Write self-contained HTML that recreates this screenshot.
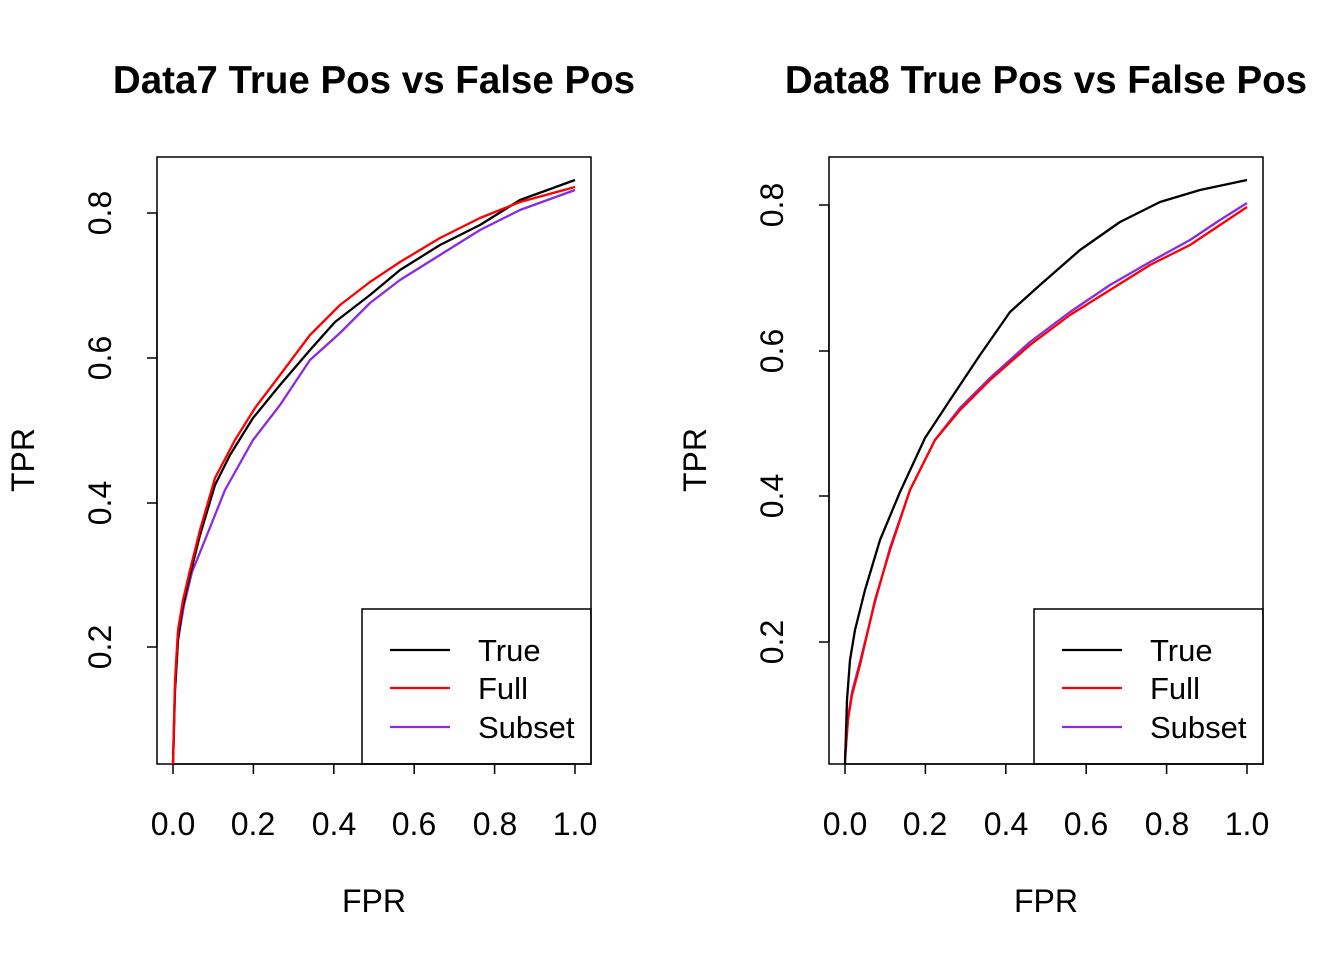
<!DOCTYPE html>
<html><head><meta charset="utf-8"><style>body{margin:0;background:#fff}svg{display:block}text{font-family:"Liberation Sans",Arial,sans-serif;fill:#000}</style></head><body>
<svg width="1344" height="960" xmlns="http://www.w3.org/2000/svg">
<text x="374" y="93" text-anchor="middle" font-weight="bold" font-size="38.5">Data7 True Pos vs False Pos</text>
<text x="1046" y="93" text-anchor="middle" font-weight="bold" font-size="38.5">Data8 True Pos vs False Pos</text>
<g fill="none" stroke="#000" stroke-width="1.5">
<rect x="157" y="157" width="434" height="607"/>
<rect x="829" y="157" width="434" height="607"/>
<path d="M173 764H575M173 764v10M253.4 764v10M333.8 764v10M414.2 764v10M494.6 764v10M575 764v10"/>
<path d="M845 764H1247M845 764v10M925.4 764v10M1005.8 764v10M1086.2 764v10M1166.6 764v10M1247 764v10"/>
<path d="M157 213V647M147 213h10M147 358h10M147 503h10M147 647h10"/>
<path d="M829 205V642M819 205h10M819 351h10M819 496h10M819 642h10"/>
<rect x="362" y="609" width="229" height="155"/>
<rect x="1034" y="609" width="229" height="155"/>
</g>
<g font-size="32" text-anchor="middle">
<text x="173" y="835">0.0</text><text x="253" y="835">0.2</text><text x="334" y="835">0.4</text><text x="414" y="835">0.6</text><text x="495" y="835">0.8</text><text x="575" y="835">1.0</text>
<text x="845" y="835">0.0</text><text x="925" y="835">0.2</text><text x="1006" y="835">0.4</text><text x="1086" y="835">0.6</text><text x="1167" y="835">0.8</text><text x="1247" y="835">1.0</text>
<text x="374" y="912">FPR</text><text x="1046" y="912">FPR</text>
<text transform="translate(111,213) rotate(-90)">0.8</text><text transform="translate(111,358) rotate(-90)">0.6</text><text transform="translate(111,503) rotate(-90)">0.4</text><text transform="translate(111,647) rotate(-90)">0.2</text>
<text transform="translate(783,205) rotate(-90)">0.8</text><text transform="translate(783,351) rotate(-90)">0.6</text><text transform="translate(783,496) rotate(-90)">0.4</text><text transform="translate(783,642) rotate(-90)">0.2</text>
<text transform="translate(34,460) rotate(-90)">TPR</text><text transform="translate(706,460) rotate(-90)">TPR</text>
</g>
<g fill="none" stroke-width="2.3" stroke-linejoin="round">
<polyline stroke="#8a2be2" points="173,764 175,690 178,640 184,605 192,572 205,540 225,490 253,440 280,405 310,360 340,333 370,303 400,280 440,255 480,230 520,210 575,190"/>
<polyline stroke="#000" points="173,764 175,690 178,640 182,610 190,575 200,535 215,485 230,455 253,418 280,385 310,350 335,322 370,295 400,270 440,245 480,225 520,200 575,180"/>
<polyline stroke="#f00" points="173,764 175,680 178,630 183,600 190,570 200,530 215,478 235,440 255,408 280,375 310,335 340,305 370,282 400,262 440,238 480,218 520,202 575,187"/>
<polyline stroke="#8a2be2" points="845,758 848,718 852,692 860,662 875,602 890,548 910,490 935,440 960,408 990,378 1030,342 1070,312 1110,285 1150,262 1190,240 1220,220 1247,203"/>
<polyline stroke="#f00" points="845,760 848,720 852,695 860,665 875,600 890,550 910,490 935,440 960,410 990,380 1030,345 1070,315 1110,290 1150,265 1190,245 1220,225 1247,207"/>
<polyline stroke="#000" points="845,764 847,700 850,660 855,630 865,590 880,540 900,492 925,438 950,400 980,355 1010,312 1040,285 1080,250 1120,222 1160,202 1200,190 1247,180"/>
<path stroke="#000" d="M390 650h60M1062 650h60"/>
<path stroke="#f00" d="M390 688h60M1062 688h60"/>
<path stroke="#8a2be2" d="M390 727h60M1062 727h60"/>
</g>
<g font-size="31">
<text x="478" y="661">True</text><text x="478" y="699">Full</text><text x="478" y="738">Subset</text>
<text x="1150" y="661">True</text><text x="1150" y="699">Full</text><text x="1150" y="738">Subset</text>
</g>
</svg>
</body></html>
